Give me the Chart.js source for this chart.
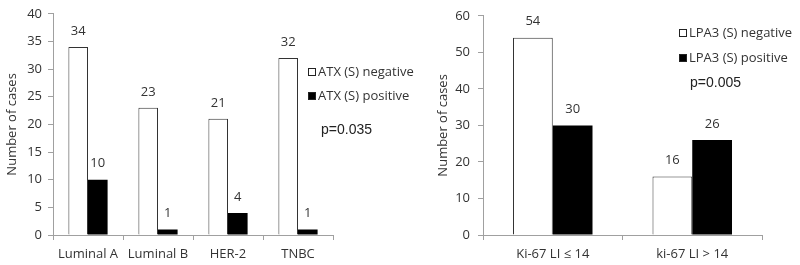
<!DOCTYPE html>
<html>
<head>
<meta charset="utf-8">
<script src="https://cdn.jsdelivr.net/npm/chart.js@4.4.1/dist/chart.umd.min.js"></script>
<style>
  html, body { margin: 0; padding: 0; background: #fff; width: 800px; height: 265px; overflow: hidden; }
  .wrap { position: absolute; top: 0; height: 265px; }
  #w1 { left: 0; width: 425px; }
  #w2 { left: 425px; width: 375px; }
</style>
</head>
<body>
<div class="wrap" id="w1"><canvas id="c1" width="425" height="265"></canvas></div>
<div class="wrap" id="w2"><canvas id="c2" width="375" height="265"></canvas></div>
<script>
// ---- data ----
const atxCategories = ['Luminal A', 'Luminal B', 'HER-2', 'TNBC'];
const atxNegative = [34, 23, 21, 32];
const atxPositive = [10, 1, 4, 1];
const atxLegend = ['ATX (S) negative', 'ATX (S) positive'];
const atxP = 'p=0.035';
const atxMax = 40, atxStep = 5;

const lpaCategories = ['Ki-67 LI \u2264 14', 'ki-67 LI > 14'];
const lpaNegative = [54, 16];
const lpaPositive = [30, 26];
const lpaLegend = ['LPA3 (S) negative', 'LPA3 (S) positive'];
const lpaP = 'p=0.005';
const lpaMax = 60, lpaStep = 10;

const yTitle = 'Number of cases';

// ---- styles ----
const FONT = "'Open Sans', sans-serif";
const TXT = '#333';
const AXIS = '#a0a0a0';

const valueLabels = {
  id: 'valueLabels',
  afterDatasetsDraw(chart) {
    const ctx = chart.ctx;
    ctx.save();
    ctx.font = "13px " + FONT;
    ctx.fillStyle = TXT;
    ctx.textAlign = 'center';
    ctx.textBaseline = 'middle';
    chart.data.datasets.forEach((ds, i) => {
      chart.getDatasetMeta(i).data.forEach((bar, j) => {
        ctx.fillText(String(ds.data[j]), bar.x, bar.y - 16);
      });
    });
    ctx.restore();
  }
};

const sideLegend = {
  id: 'sideLegend',
  afterDraw(chart, args, o) {
    const ctx = chart.ctx;
    ctx.save();
    ctx.textBaseline = 'middle';
    ctx.textAlign = 'left';
    chart.data.datasets.forEach((ds, i) => {
      const y = Math.round(o.y + i * o.gap);
      ctx.fillStyle = ds.backgroundColor;
      ctx.fillRect(o.x + 0.5, y - 3.5, 7, 7);
      ctx.strokeStyle = '#222';
      ctx.lineWidth = 1;
      ctx.strokeRect(o.x + 0.5, y - 3.5, 7, 7);
      ctx.fillStyle = TXT;
      ctx.font = "13px " + FONT;
      ctx.fillText(ds.label, o.x + 10, y);
    });
    ctx.font = "14px 'Liberation Sans', Arial, sans-serif";
    ctx.fillStyle = '#222';
    ctx.fillText(o.pText, o.pX, o.pY);
    ctx.restore();
  }
};

function makeChart(id, cats, neg, pos, legend, max, step, opts) {
  return new Chart(document.getElementById(id), {
    type: 'bar',
    data: {
      labels: cats,
      datasets: [
        { label: legend[0], data: neg, backgroundColor: '#ffffff', borderColor: '#333', borderWidth: 1,
          categoryPercentage: opts.catPct, barPercentage: 1 },
        { label: legend[1], data: pos, backgroundColor: '#000000', borderColor: '#000', borderWidth: 0,
          categoryPercentage: opts.catPct, barPercentage: 1 }
      ]
    },
    options: {
      responsive: false,
      animation: false,
      devicePixelRatio: 1,
      layout: { padding: { top: opts.top, right: opts.right, bottom: 0, left: 0 } },
      plugins: {
        legend: { display: false },
        tooltip: { enabled: false },
        sideLegend: opts.legend
      },
      scales: {
        x: {
          grid: { display: true, drawOnChartArea: false, drawTicks: true, tickLength: 5, color: AXIS, offset: true },
          border: { display: true, color: AXIS, width: 1 },
          ticks: { color: TXT, font: { family: FONT, size: 13 }, padding: 6, maxRotation: 0 },
          afterFit(s) { s.height = 30; }
        },
        y: {
          min: 0, max: max,
          ticks: { stepSize: step, color: TXT, font: { family: FONT, size: 13 }, padding: opts.tickPad },
          grid: { display: true, drawOnChartArea: false, drawTicks: true, tickLength: 5, color: AXIS },
          border: { display: true, color: AXIS, width: 1 },
          title: { display: true, text: yTitle, color: TXT, font: { family: FONT, size: 13 }, padding: { top: opts.titlePad, bottom: 0 } },
          afterFit(s) { s.width = opts.yWidth; }
        }
      }
    },
    plugins: [valueLabels, sideLegend]
  });
}

makeChart('c1', atxCategories, atxNegative, atxPositive, atxLegend, atxMax, atxStep, {
  catPct: 0.56, top: 8, right: 92, yWidth: 53, titlePad: 4, tickPad: 6,
  legend: { x: 308, y: 72, gap: 24, pText: atxP, pX: 321, pY: 130 }
});
makeChart('c2', lpaCategories, lpaNegative, lpaPositive, lpaLegend, lpaMax, lpaStep, {
  catPct: 0.57, top: 13, right: 38, yWidth: 58, titlePad: 10, tickPad: 8,
  legend: { x: 254, y: 33, gap: 25, pText: lpaP, pX: 265, pY: 83 }
});
</script>
</body>
</html>
